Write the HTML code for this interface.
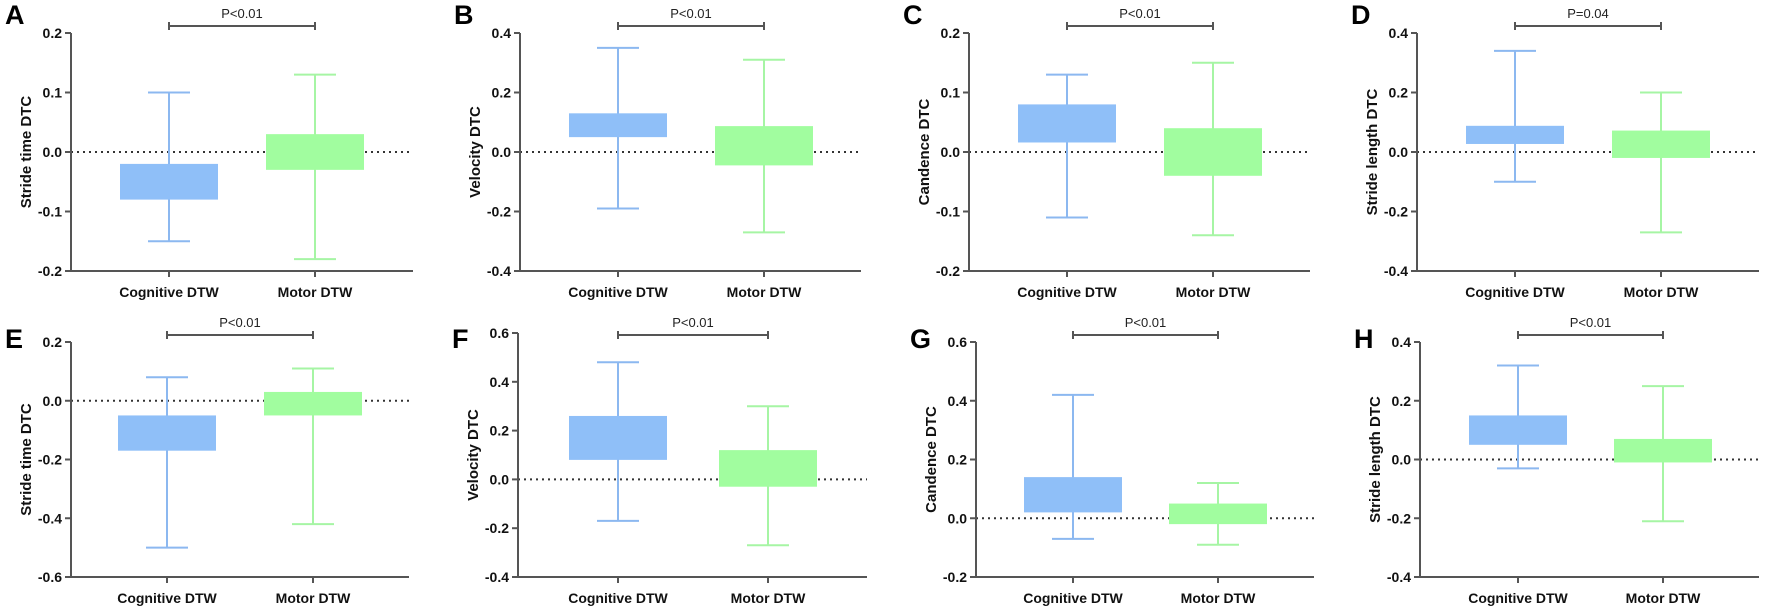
<!DOCTYPE html>
<html><head><meta charset="utf-8"><style>
html,body{margin:0;padding:0;background:#fff;}
svg{display:block;font-family:"Liberation Sans",Arial,sans-serif;}
</style></head><body>
<svg id="s" width="1772" height="613" xmlns="http://www.w3.org/2000/svg"></svg>
<script>
const P=[
{L:"A",ax:71,top:33,bot:271,cog:169,mot:315,end:413,lo:-0.2,hi:0.2,step:0.1,dec:1,yl:"Stride time DTC",p:"P<0.01",c:[-0.08,-0.02,-0.15,0.10],m:[-0.03,0.03,-0.18,0.13]},
{L:"B",ax:520,top:33,bot:271,cog:618,mot:764,end:861,lo:-0.4,hi:0.4,step:0.2,yl:"Velocity DTC",p:"P<0.01",c:[0.05,0.13,-0.19,0.35],m:[-0.045,0.087,-0.27,0.31]},
{L:"C",ax:969,top:33,bot:271,cog:1067,mot:1213,end:1310,lo:-0.2,hi:0.2,step:0.1,yl:"Candence DTC",p:"P<0.01",c:[0.016,0.08,-0.11,0.13],m:[-0.04,0.04,-0.14,0.15]},
{L:"D",ax:1417,top:33,bot:271,cog:1515,mot:1661,end:1759,lo:-0.4,hi:0.4,step:0.2,yl:"Stride length DTC",p:"P=0.04",c:[0.027,0.088,-0.10,0.34],m:[-0.02,0.072,-0.27,0.20]},
{L:"E",ax:71,top:342,bot:577,cog:167,mot:313,end:409,lo:-0.6,hi:0.2,step:0.2,yl:"Stride time DTC",p:"P<0.01",c:[-0.17,-0.05,-0.50,0.08],m:[-0.05,0.03,-0.42,0.11]},
{L:"F",ax:518,top:333,bot:577,cog:618,mot:768,end:867,lo:-0.4,hi:0.6,step:0.2,yl:"Velocity DTC",p:"P<0.01",c:[0.08,0.26,-0.17,0.48],m:[-0.03,0.12,-0.27,0.30]},
{L:"G",ax:976,top:342,bot:577,cog:1073,mot:1218,end:1314,lo:-0.2,hi:0.6,step:0.2,yl:"Candence DTC",p:"P<0.01",c:[0.02,0.14,-0.07,0.42],m:[-0.02,0.05,-0.09,0.12]},
{L:"H",ax:1420,top:342,bot:577,cog:1518,mot:1663,end:1759,lo:-0.4,hi:0.4,step:0.2,yl:"Stride length DTC",p:"P<0.01",c:[0.05,0.15,-0.03,0.32],m:[-0.01,0.07,-0.21,0.25]}
];
let h="";
const ax="#555";
for(const p of P){
 const y=v=>p.bot-(v-p.lo)/(p.hi-p.lo)*(p.bot-p.top);
 const row=p.top<300?0:300;
 const by=row?335:26;
 // letter
 h+=`<text x="${p.ax-66}" y="${row?row+48:24}" font-size="27" font-weight="bold" fill="#000">${p.L}</text>`;
 // dotted zero line
 h+=`<line x1="${p.ax}" y1="${y(0)}" x2="${p.end}" y2="${y(0)}" stroke="#333" stroke-width="2" stroke-dasharray="2,4"/>`;
 // boxes
 const grp=(cx,d,fill,ln)=>{
  let s=`<line x1="${cx}" y1="${y(d[3])}" x2="${cx}" y2="${y(d[2])}" stroke="${ln}" stroke-width="2"/>`;
  s+=`<line x1="${cx-21}" y1="${y(d[3])}" x2="${cx+21}" y2="${y(d[3])}" stroke="${ln}" stroke-width="2"/>`;
  s+=`<line x1="${cx-21}" y1="${y(d[2])}" x2="${cx+21}" y2="${y(d[2])}" stroke="${ln}" stroke-width="2"/>`;
  s+=`<rect x="${cx-49}" y="${y(d[1])}" width="98" height="${y(d[0])-y(d[1])}" fill="${fill}"/>`;
  return s;};
 h+=grp(p.cog,p.c,"#8fbff8","#8cb8f0");
 h+=grp(p.mot,p.m,"#a1fd9f","#a6f5a4");
 // axes
 h+=`<line x1="${p.ax}" y1="${p.top}" x2="${p.ax}" y2="${p.bot}" stroke="${ax}" stroke-width="2"/>`;
 h+=`<line x1="${p.ax}" y1="${p.bot}" x2="${p.end}" y2="${p.bot}" stroke="${ax}" stroke-width="2"/>`;
 const n=Math.round((p.hi-p.lo)/p.step);
 for(let i=0;i<=n;i++){
  const v=p.lo+i*p.step, yy=y(v);
  h+=`<line x1="${p.ax-6}" y1="${yy}" x2="${p.ax}" y2="${yy}" stroke="${ax}" stroke-width="2"/>`;
  h+=`<text x="${p.ax-9}" y="${yy+5}" font-size="14" font-weight="bold" text-anchor="end" fill="#111">${(Math.abs(v)<1e-9?0:v).toFixed(1)}</text>`;
 }
 for(const cx of [p.cog,p.mot]){
  h+=`<line x1="${cx}" y1="${p.bot}" x2="${cx}" y2="${p.bot+6}" stroke="${ax}" stroke-width="2"/>`;
 }
 h+=`<text x="${p.cog}" y="${p.bot+26}" font-size="14" font-weight="bold" text-anchor="middle" fill="#111">Cognitive DTW</text>`;
 h+=`<text x="${p.mot}" y="${p.bot+26}" font-size="14" font-weight="bold" text-anchor="middle" fill="#111">Motor DTW</text>`;
 // y label
 const cy=(p.top+p.bot)/2;
 h+=`<text transform="translate(${p.ax-40},${cy}) rotate(-90)" font-size="15" font-weight="bold" text-anchor="middle" fill="#111">${p.yl}</text>`;
 // bracket
 h+=`<line x1="${p.cog}" y1="${by}" x2="${p.mot}" y2="${by}" stroke="#555" stroke-width="2"/>`;
 h+=`<line x1="${p.cog}" y1="${by-4}" x2="${p.cog}" y2="${by+4}" stroke="#555" stroke-width="2"/>`;
 h+=`<line x1="${p.mot}" y1="${by-4}" x2="${p.mot}" y2="${by+4}" stroke="#555" stroke-width="2"/>`;
 h+=`<text x="${(p.cog+p.mot)/2}" y="${by-8}" font-size="13" text-anchor="middle" fill="#222">${p.p}</text>`;
}
document.getElementById("s").innerHTML=h;
</script>
</body></html>
